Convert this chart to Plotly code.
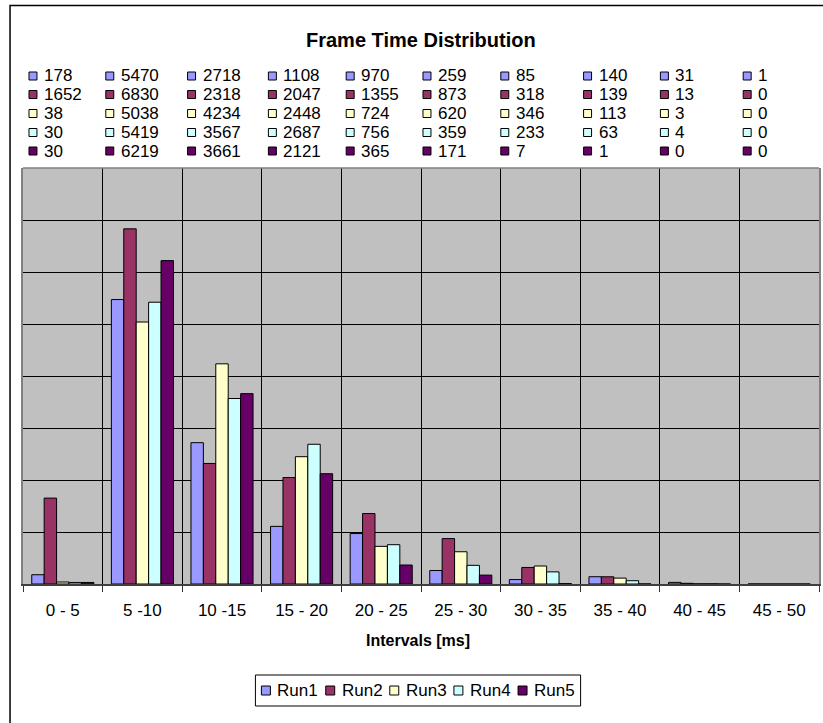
import plotly.graph_objects as go

categories = ["0 - 5", "5 -10", "10 -15", "15 - 20", "20 - 25", "25 - 30",
              "30 - 35", "35 - 40", "40 - 45", "45 - 50"]
run1 = [178, 5470, 2718, 1108, 970, 259, 85, 140, 31, 1]
run2 = [1652, 6830, 2318, 2047, 1355, 873, 318, 139, 13, 0]
run3 = [38, 5038, 4234, 2448, 724, 620, 346, 113, 3, 0]
run4 = [30, 5419, 3567, 2687, 756, 359, 233, 63, 4, 0]
run5 = [30, 6219, 3661, 2121, 365, 171, 7, 1, 0, 0]
series_names = ["Run1", "Run2", "Run3", "Run4", "Run5"]
series_values = [run1, run2, run3, run4, run5]
colors = ["#9999FF", "#993366", "#FFFFCC", "#CCFFFF", "#660066"]

# figure placed at page origin (body margin removed by post_script)
OX, OY = 0, 0
W, H = 823, 723
L, R, T, B = 23, 2, 168, 139
PW, PH = W - L - R, H - T - B
FONT = "Liberation Sans, Arial, sans-serif"


def px(x):
    """screen x pixel -> paper coordinate"""
    return (x - OX - L) / PW


def py(y):
    """screen y pixel -> paper coordinate"""
    return (H - B - (y - OY)) / PH


fig = go.Figure()
for name, vals, col in zip(series_names, series_values, colors):
    fig.add_trace(go.Bar(x=categories, y=vals, name=name,
                         marker=dict(color=col, line=dict(color="black", width=1)),
                         showlegend=False))

shapes = []
annotations = []

# outer chart border
shapes.append(dict(type="rect", xref="paper", yref="paper",
                   x0=px(10), x1=px(840), y0=py(5.5), y1=py(760),
                   line=dict(color="black", width=1.5), layer="below"))
# top border of plot area
shapes.append(dict(type="line", xref="paper", yref="paper", x0=0, x1=1, y0=1, y1=1,
                   line=dict(color="#808080", width=1.5)))

# data table at top
col_x = [29, 106, 188, 269, 347, 424, 502, 585, 662, 745]
row_y = [76, 94.5, 113.5, 132.5, 151]
for r, (vals, col) in enumerate(zip(series_values, colors)):
    for c, v in enumerate(vals):
        sx = col_x[c]
        yc = row_y[r]
        shapes.append(dict(type="rect", xref="paper", yref="paper",
                           x0=px(sx), x1=px(sx + 8), y0=py(yc - 4), y1=py(yc + 4),
                           fillcolor=col, line=dict(color="black", width=1)))
        annotations.append(dict(xref="paper", yref="paper", x=px(sx + 13), y=py(yc),
                                xanchor="left", yanchor="middle", showarrow=False,
                                text=str(v), font=dict(family=FONT, size=17, color="black")))

# title
annotations.append(dict(xref="paper", yref="paper", x=px(422), y=py(40),
                        xanchor="center", yanchor="middle", showarrow=False,
                        text="<b>Frame Time Distribution</b>",
                        font=dict(family=FONT, size=20, color="black")))
# x axis title
annotations.append(dict(xref="paper", yref="paper", x=px(419), y=py(640),
                        xanchor="center", yanchor="middle", showarrow=False,
                        text="<b>Intervals [ms]</b>",
                        font=dict(family=FONT, size=16, color="black")))

# legend box
shapes.append(dict(type="rect", xref="paper", yref="paper",
                   x0=px(256), x1=px(582), y0=py(675), y1=py(706),
                   fillcolor="white", line=dict(color="black", width=1)))
leg_x = [262, 326.5, 390.7, 455, 519.3]
for name, col, lx in zip(series_names, colors, leg_x):
    shapes.append(dict(type="rect", xref="paper", yref="paper",
                       x0=px(lx), x1=px(lx + 9), y0=py(686), y1=py(695),
                       fillcolor=col, line=dict(color="black", width=1)))
    annotations.append(dict(xref="paper", yref="paper", x=px(lx + 14), y=py(690.5),
                            xanchor="left", yanchor="middle", showarrow=False,
                            text=name, font=dict(family=FONT, size=17, color="black")))

fig.update_layout(
    width=W, height=H,
    margin=dict(l=L, r=R, t=T, b=B, pad=0),
    paper_bgcolor="white",
    plot_bgcolor="#C0C0C0",
    barmode="group",
    bargap=0.22,
    bargroupgap=0,
    font=dict(family=FONT, size=17, color="black"),
    shapes=shapes,
    annotations=annotations,
    showlegend=False,
)
fig.update_xaxes(
    type="category", tickson="boundaries", showgrid=True, gridcolor="black", gridwidth=1,
    ticks="outside", ticklen=6, tickcolor="#333333", tickwidth=1,
    showline=True, linecolor="#404040", linewidth=1.5,
    tickfont=dict(family=FONT, size=17, color="black"),
    ticklabelstandoff=10,
)
fig.update_yaxes(
    range=[0, 8000], dtick=1000, showgrid=True, gridcolor="black", gridwidth=1,
    showticklabels=False, ticks="", zeroline=False,
    showline=True, linecolor="#808080", linewidth=1.5, mirror=True,
)

fig.write_html(
    "out.html",
    config={"displayModeBar": False},
    post_script="document.body.style.margin='0';document.body.style.overflow='hidden';",
)
